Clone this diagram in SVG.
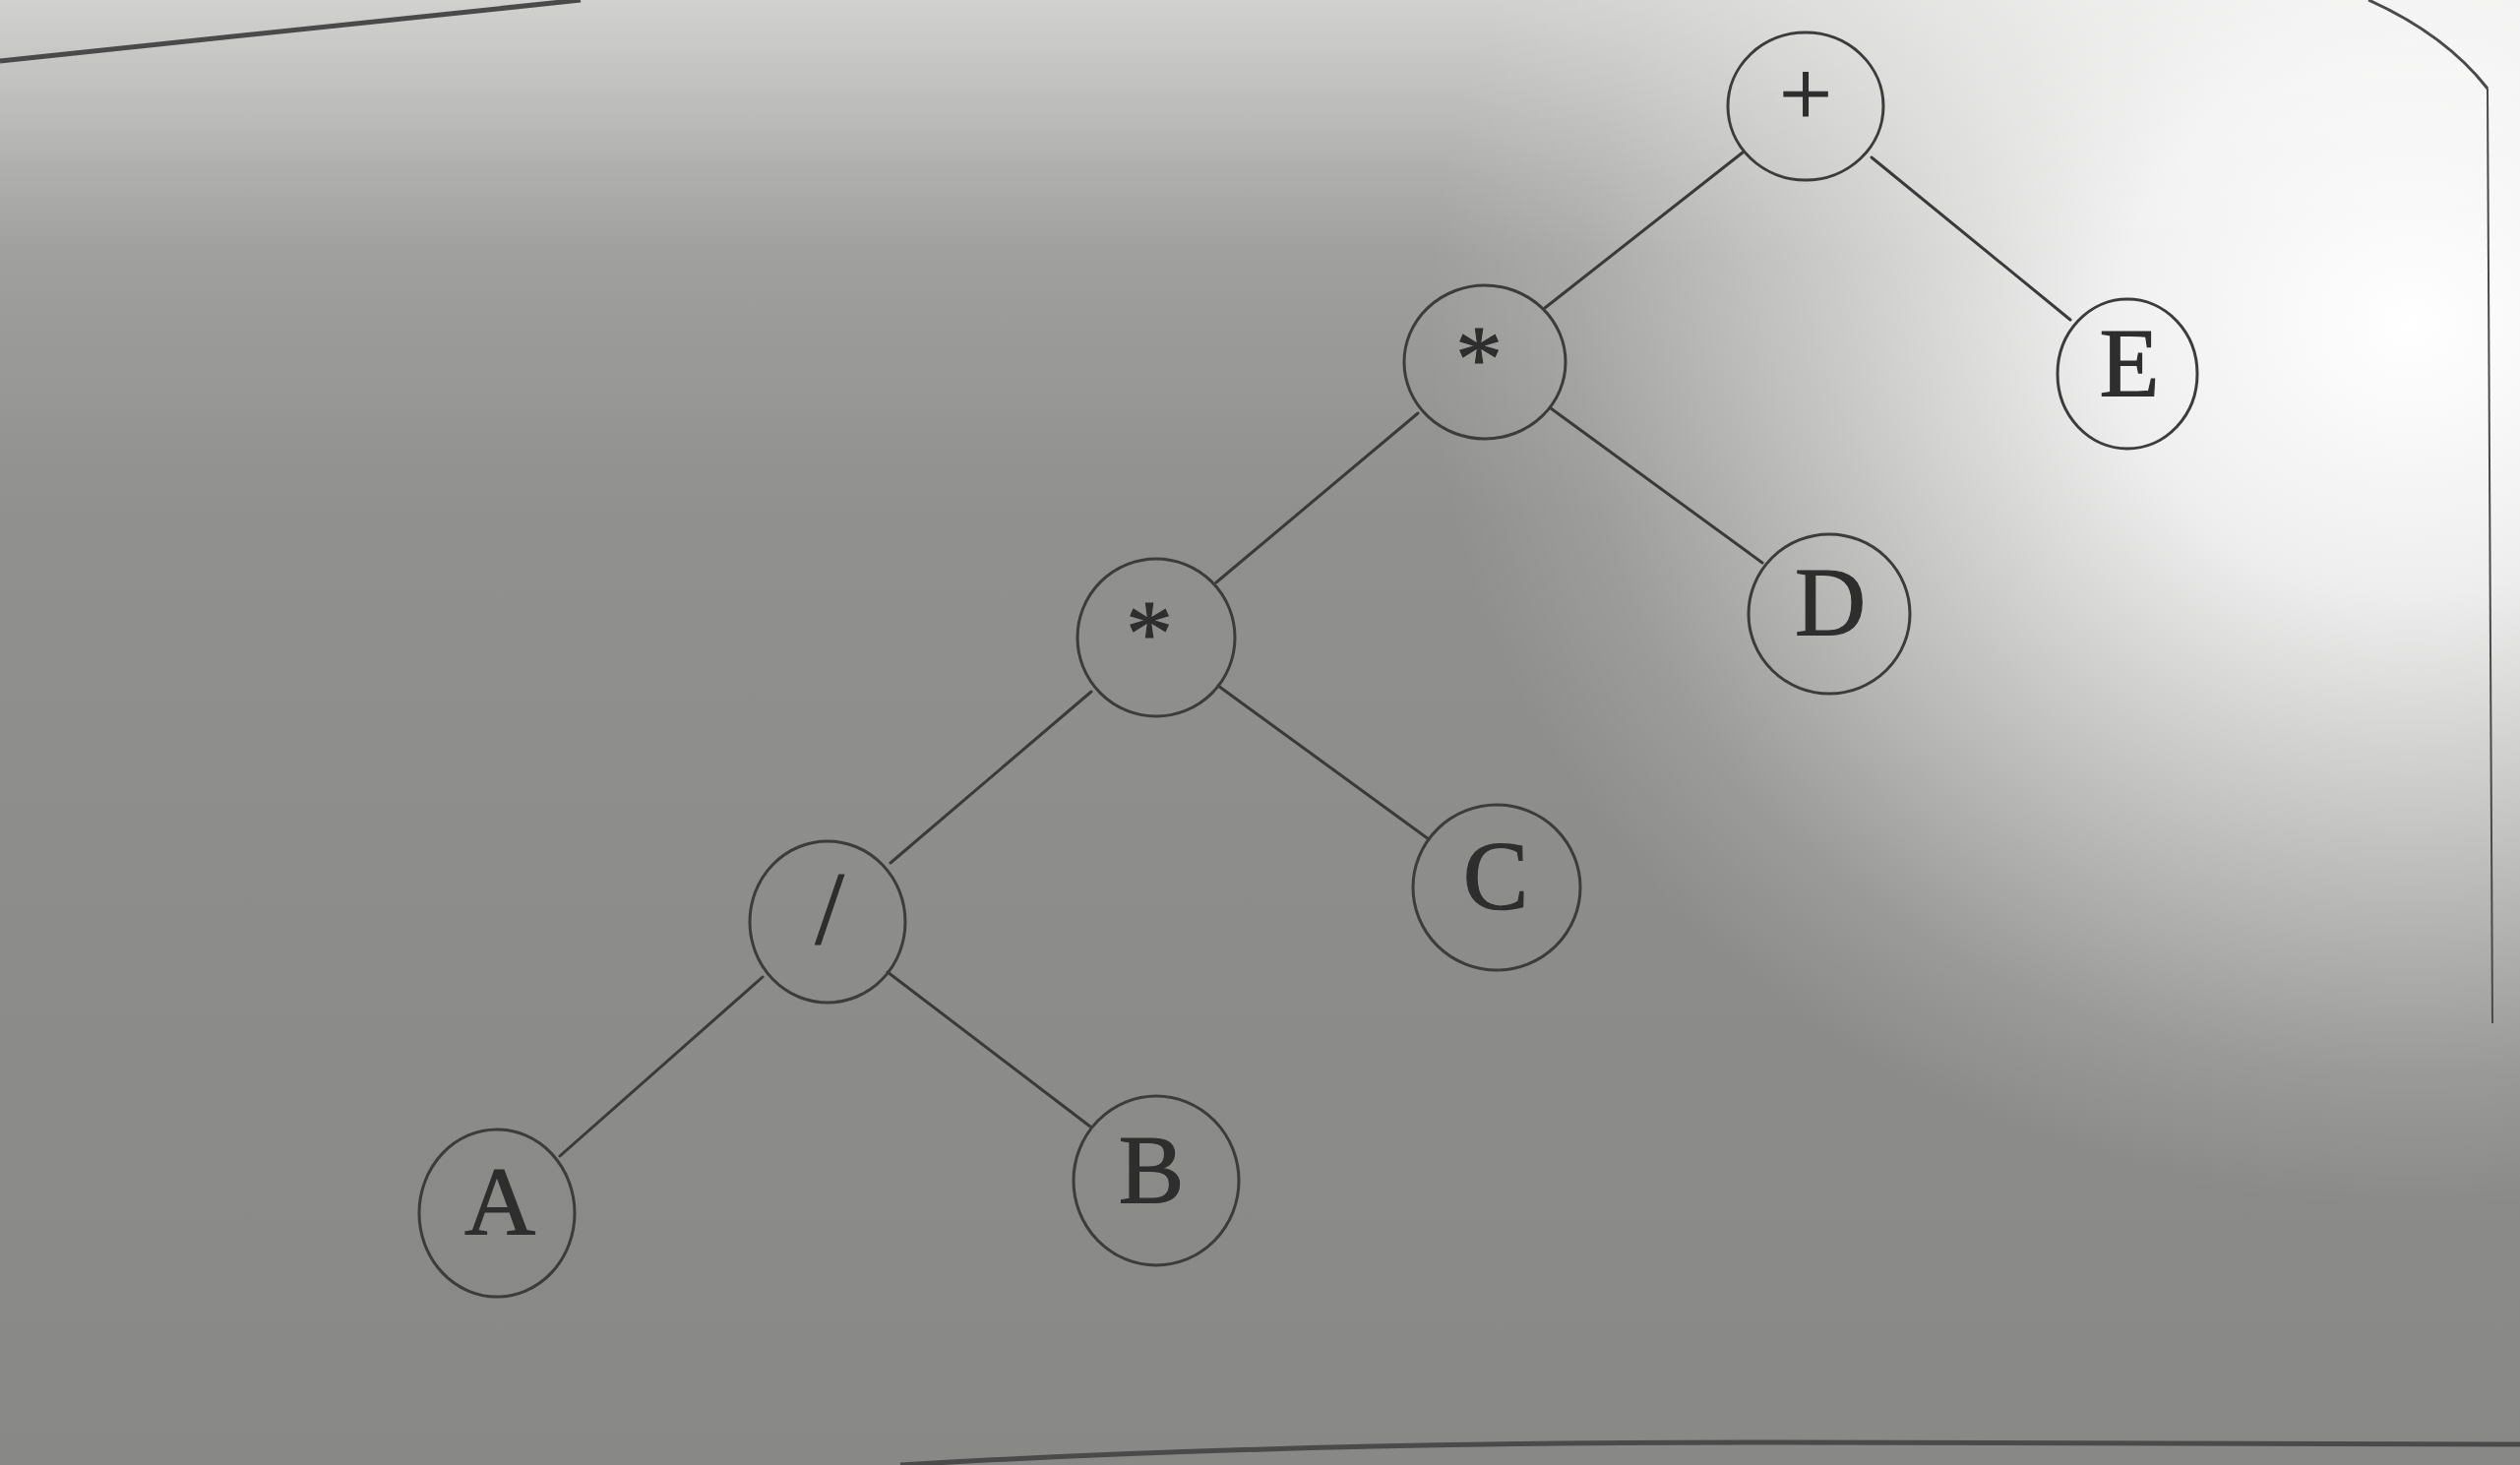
<svg xmlns="http://www.w3.org/2000/svg" width="2561" height="1489" viewBox="0 0 2561 1489">
<defs>
<linearGradient id="bgv" x1="0" y1="0" x2="0" y2="1">
<stop offset="0" stop-color="#b8b8b6"/>
<stop offset="0.12" stop-color="#a4a4a2"/>
<stop offset="0.35" stop-color="#90908e"/>
<stop offset="1" stop-color="#888886"/>
</linearGradient>
<radialGradient id="glow" gradientUnits="userSpaceOnUse" cx="2450" cy="330" r="1000" gradientTransform="translate(2450 330) scale(1 0.9) translate(-2450 -330)">
<stop offset="0" stop-color="#ffffff" stop-opacity="1"/>
<stop offset="0.3" stop-color="#ffffff" stop-opacity="0.85"/>
<stop offset="0.6" stop-color="#ffffff" stop-opacity="0.45"/>
<stop offset="0.85" stop-color="#ffffff" stop-opacity="0.12"/>
<stop offset="1" stop-color="#ffffff" stop-opacity="0"/>
</radialGradient>
<linearGradient id="topfade" x1="0" y1="0" x2="0" y2="1">
<stop offset="0" stop-color="#ffffff" stop-opacity="0.35"/>
<stop offset="1" stop-color="#ffffff" stop-opacity="0"/>
</linearGradient>
<style>
.node ellipse { fill: none; stroke: #3c3c3c; stroke-width: 3; }
.node text { font-family: "Liberation Serif", "Times New Roman", serif; fill: #2e2e2e; stroke: #2e2e2e; stroke-width: 1.2; text-anchor: middle; }
.lbl { font-size: 100px; }
.op { font-size: 95px; }
#connectors line { stroke: #3a3a3a; stroke-width: 3; stroke-linecap: round; }
.edge-page { fill: none; stroke: #4a4a4a; }
</style>
</defs>
<rect x="0" y="0" width="2561" height="1489" fill="url(#bgv)"/>
<rect x="0" y="0" width="2561" height="1489" fill="url(#glow)"/>
<rect x="0" y="0" width="2561" height="260" fill="url(#topfade)"/>
<path class="edge-page" d="M0,62 L590,0" stroke-width="5"/>
<path class="edge-page" d="M2407,0 Q2485,35 2528,90" stroke-width="3" stroke="#777"/>
<path class="edge-page" d="M2528,90 L2533,1040" stroke-width="2" stroke="#c8c8c8"/>
<path class="edge-page" d="M915,1489 Q1300,1466 1800,1466 L2561,1468" stroke-width="5" stroke="#333"/>
<g id="connectors">
<line x1="1771" y1="155" x2="1570" y2="313"/>
<line x1="1902" y1="160" x2="2104" y2="325"/>
<line x1="1441" y1="420" x2="1236" y2="592"/>
<line x1="1576" y1="415" x2="1791" y2="572"/>
<line x1="1109" y1="703" x2="905" y2="877"/>
<line x1="1238" y1="697" x2="1452" y2="853"/>
<line x1="775" y1="993" x2="569" y2="1175"/>
<line x1="902" y1="988" x2="1108" y2="1145"/>
</g>
<g id="node-plus" class="node"><ellipse cx="1835" cy="108" rx="79" ry="75"/><text class="op" x="1835" y="127">+</text></g>
<g id="node-mul1" class="node"><ellipse cx="1509" cy="368" rx="82" ry="78"/><text class="op" x="1503" y="397">*</text></g>
<g id="node-E" class="node"><ellipse cx="2162" cy="380" rx="71" ry="76"/><text class="lbl" x="2164" y="402">E</text></g>
<g id="node-mul2" class="node"><ellipse cx="1175" cy="648" rx="80" ry="80"/><text class="op" x="1168" y="676">*</text></g>
<g id="node-D" class="node"><ellipse cx="1859" cy="624" rx="82" ry="81"/><text class="lbl" x="1860" y="645">D</text></g>
<g id="node-div" class="node"><ellipse cx="841" cy="937" rx="79" ry="82"/><text class="op" x="843" y="959" style="font-size:105px">/</text></g>
<g id="node-C" class="node"><ellipse cx="1521" cy="902" rx="85" ry="84"/><text class="lbl" x="1520" y="923">C</text></g>
<g id="node-A" class="node"><ellipse cx="505" cy="1233" rx="79" ry="85"/><text class="lbl" x="508" y="1255">A</text></g>
<g id="node-B" class="node"><ellipse cx="1175" cy="1200" rx="84" ry="86"/><text class="lbl" x="1170" y="1222">B</text></g>
</svg>
